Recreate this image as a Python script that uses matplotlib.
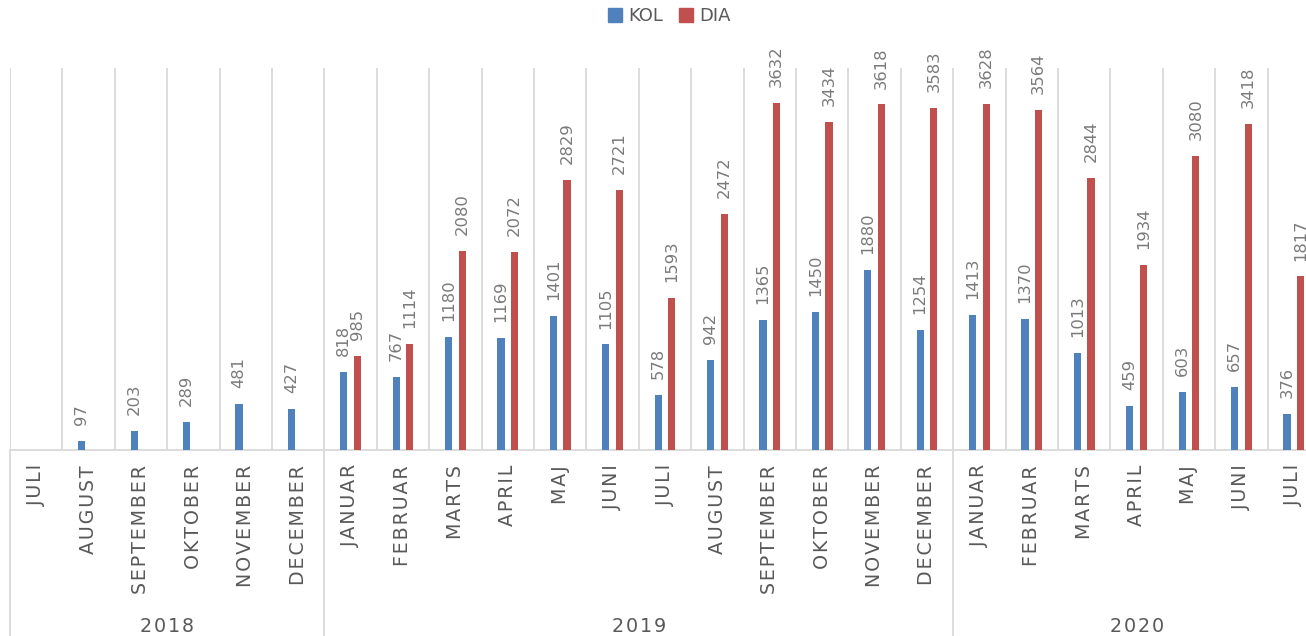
import numpy as np
import matplotlib
matplotlib.use("Agg")
from matplotlib import pyplot as plt
from matplotlib.patches import Patch
from matplotlib.transforms import blended_transform_factory

months = ["JULI", "AUGUST", "SEPTEMBER", "OKTOBER", "NOVEMBER", "DECEMBER",
          "JANUAR", "FEBRUAR", "MARTS", "APRIL", "MAJ", "JUNI",
          "JULI", "AUGUST", "SEPTEMBER", "OKTOBER", "NOVEMBER", "DECEMBER",
          "JANUAR", "FEBRUAR", "MARTS", "APRIL", "MAJ", "JUNI", "JULI"]
years = ["2018", "2019", "2020"]
year_counts = [6, 12, 7]

kol = [np.nan, 97, 203, 289, 481, 427,
       818, 767, 1180, 1169, 1401, 1105, 578, 942, 1365, 1450, 1880, 1254,
       1413, 1370, 1013, 459, 603, 657, 376]
dia = [np.nan, np.nan, np.nan, np.nan, np.nan, np.nan,
       985, 1114, 2080, 2072, 2829, 2721, 1593, 2472, 3632, 3434, 3618, 3583,
       3628, 3564, 2844, 1934, 3080, 3418, 1817]

BLUE = "#4f81bd"
RED = "#c0504d"
GRID = "#d9d9d9"
TXT = "#595959"
VAL = "#7a7a7a"

W, H = 1306, 636
fig = plt.figure(figsize=(W / 100, H / 100), dpi=100)
# plot area runs past the right edge like the original crop
ax = fig.add_axes([10 / W, (H - 450) / H, 1310 / W, 382 / H])

x = np.arange(len(months))
bw = 0.14
off = 0.13
ax.bar(x - off, kol, bw, color=BLUE, zorder=3)
ax.bar(x + off, dia, bw, color=RED, zorder=3)

for xs, vals in [(x - off, kol), (x + off, dia)]:
    for xi, v in zip(xs, vals):
        if np.isnan(v):
            continue
        ax.annotate(f"{v:.0f}", (xi, v), xytext=(0, 11.5), textcoords="offset points",
                    rotation=90, ha="center", va="bottom", fontsize=11.8, color=VAL)

ax.set_xlim(-0.5, len(months) - 0.5)
ax.set_ylim(0, 4000)
for s in ["top", "right", "left"]:
    ax.spines[s].set_visible(False)
ax.spines["bottom"].set_color(GRID)
ax.spines["bottom"].set_linewidth(1.3)
ax.set_yticks([])

for b in np.arange(-0.5, len(months), 1.0):
    ax.axvline(b, color=GRID, lw=1.3, zorder=1)

spaced = ["\u200a".join(m) for m in months]
ax.set_xticks(x)
ax.set_xticklabels(spaced, rotation=90, fontsize=13.7, color=TXT)
ax.tick_params(axis="x", length=0, pad=10.8)

trans = blended_transform_factory(ax.transData, ax.transAxes)
start = -0.5
for yr, n in zip(years, year_counts):
    ax.plot([start, start], [0, -0.5], color=GRID, lw=1.3, transform=trans, clip_on=False)
    ax.text(start + n / 2, -(632 - 450) / 382, "\u200a".join(yr), transform=trans,
            ha="center", va="baseline", fontsize=13.8, color=TXT)
    start += n

handles = [Patch(color=BLUE, label="KOL"), Patch(color=RED, label="DIA")]
fig.legend(handles=handles, loc="center", bbox_to_anchor=(669.5 / W, 1 - 16 / H),
           ncol=2, frameon=False, fontsize=13, handlelength=0.78, handleheight=0.78,
           handletextpad=0.33, columnspacing=0.9, labelcolor=TXT)

fig.savefig("out.png", dpi=100)
